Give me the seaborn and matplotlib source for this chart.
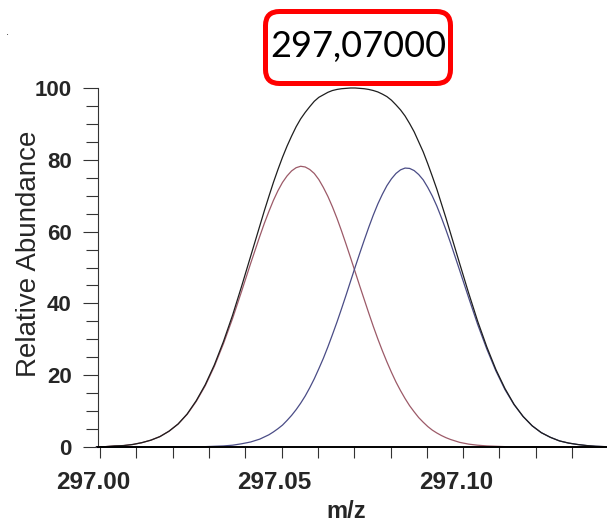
import matplotlib
matplotlib.use("Agg")
import matplotlib.pyplot as plt
from matplotlib.patches import FancyBboxPatch
from matplotlib.transforms import IdentityTransform, ScaledTranslation
from matplotlib.ticker import MultipleLocator, FixedLocator
import seaborn as sns
import pandas as pd

# m/z sampling positions of the profile traces (denser across the peak tops)
mz = [296.9990, 297.0015, 297.0040, 297.0065, 297.0090, 297.0115, 297.0140, 297.0165,
      297.0190, 297.0215, 297.0240, 297.0265, 297.0290, 297.0315, 297.0340, 297.0365,
      297.0390, 297.0415,
      297.0440, 297.04525, 297.0465, 297.04775, 297.0490, 297.05025, 297.0515, 297.05275,
      297.0540, 297.05525, 297.0565, 297.05775, 297.0590, 297.06025, 297.0615, 297.06275,
      297.0640, 297.06525, 297.0665, 297.06775, 297.0690, 297.07025, 297.0715, 297.07275,
      297.0740, 297.07525, 297.0765, 297.07775, 297.0790, 297.08025, 297.0815, 297.08275,
      297.0840, 297.08525, 297.0865, 297.08775, 297.0890, 297.09025, 297.0915, 297.09275,
      297.0940, 297.09525,
      297.0965, 297.0990, 297.1015, 297.1040, 297.1065, 297.1090, 297.1115, 297.1140,
      297.1165, 297.1190, 297.1215, 297.1240, 297.1265, 297.1290, 297.1315, 297.1340,
      297.1365, 297.1390]

# observed (merged) peak profile
envelope = [0.1, 0.1, 0.3, 0.4, 0.7, 1.2, 1.9, 2.9, 4.4, 6.4, 9.2, 12.9, 17.4, 22.9,
            29.4, 36.7, 44.8, 53.2,
            61.6, 65.8, 69.8, 73.7, 77.3, 80.7, 83.8, 86.6, 89.2, 91.4, 93.2, 94.8,
            96.3, 97.4, 98.1, 98.8, 99.3, 99.6, 99.8, 99.9, 100.0, 100.0, 99.9, 99.8,
            99.6, 99.3, 98.9, 98.3, 97.6, 96.6, 95.3, 93.9, 92.2, 90.1, 87.8, 85.0,
            82.2, 78.9, 75.4, 71.8, 67.8, 63.8,
            59.6, 51.2, 42.9, 35.0, 27.9, 21.6, 16.3, 11.9, 8.5, 5.9, 4.0, 2.7, 1.7,
            1.1, 0.7, 0.4, 0.2, 0.1]

# lower-mass component
component_a = [0.1, 0.1, 0.3, 0.4, 0.7, 1.2, 1.9, 2.9, 4.4, 6.4, 9.1, 12.7, 17.1, 22.5,
               28.8, 35.8, 43.4, 51.2,
               58.7, 62.3, 65.6, 68.7, 71.4, 73.7, 75.5, 76.9, 77.8, 78.2, 78.0, 77.3,
               76.2, 74.5, 72.3, 69.8, 66.9, 63.7, 60.2, 56.5, 52.7, 48.8, 44.9, 41.1,
               37.3, 33.6, 30.1, 26.8, 23.7, 20.8, 18.1, 15.7, 13.5, 11.5, 9.8, 8.2,
               6.9, 5.7, 4.7, 3.9, 3.2, 2.6,
               2.1, 1.3, 0.8, 0.5, 0.3, 0.2, 0.1, 0.0, 0.0, 0.0, 0.0, 0.0, 0.0, 0.0,
               0.0, 0.0, 0.0, 0.0]

# higher-mass component
component_b = [0.0, 0.0, 0.0, 0.0, 0.0, 0.0, 0.0, 0.0, 0.0, 0.0, 0.0, 0.1, 0.1, 0.2,
               0.3, 0.5, 0.9, 1.4,
               2.2, 2.8, 3.4, 4.2, 5.1, 6.1, 7.4, 8.8, 10.4, 12.2, 14.2, 16.5,
               19.0, 21.8, 24.7, 27.9, 31.3, 34.8, 38.5, 42.3, 46.2, 50.1, 53.9, 57.6,
               61.2, 64.6, 67.7, 70.4, 72.8, 74.7, 76.2, 77.2, 77.7, 77.6, 77.0, 75.9,
               74.4, 72.3, 69.9, 67.1, 63.9, 60.5,
               56.9, 49.3, 41.6, 34.1, 27.3, 21.2, 16.0, 11.8, 8.5, 5.9, 4.0, 2.7, 1.7,
               1.1, 0.7, 0.4, 0.2, 0.1]

x_major = [297.00, 297.05, 297.10]
x_labels = ["297.00", "297.05", "297.10"]
y_major = [0, 20, 40, 60, 80, 100]
peak_label = "297,07000"

sns.set_style("ticks")
plt.rcParams["font.family"] = ["Liberation Sans", "DejaVu Sans"]

n = len(mz)
df = pd.DataFrame({"mz": mz * 3,
                   "abundance": envelope + component_a + component_b,
                   "trace": ["envelope"] * n + ["a"] * n + ["b"] * n})

fig = plt.figure(figsize=(6.07, 5.23), dpi=100)
ax = fig.add_axes([98 / 607, 76 / 523, 509 / 607, 359 / 523])

palette = {"envelope": "#1e1e1e", "a": "#9c5a68", "b": "#4a4c86"}
sns.lineplot(data=df, x="mz", y="abundance", hue="trace", palette=palette,
             hue_order=["a", "b", "envelope"], linewidth=0.9, legend=False,
             ax=ax, clip_on=False, sort=False)

ax.set_xlim(296.99945, 297.1396)
ax.set_ylim(0, 100)

ax.xaxis.set_major_locator(FixedLocator(x_major))
ax.set_xticklabels(x_labels)
ax.xaxis.set_minor_locator(MultipleLocator(0.01))
ax.yaxis.set_major_locator(FixedLocator(y_major))
ax.yaxis.set_minor_locator(MultipleLocator(5))

ax.tick_params(axis="y", which="major", length=11, width=0.8, color="#333333",
               labelsize=16, pad=8)
ax.tick_params(axis="y", which="minor", length=8.5, width=0.8, color="#333333")
ax.tick_params(axis="x", which="both", length=8, width=0.8, color="#333333",
               labelsize=17.5, pad=9)
shift = ScaledTranslation(-7 / 100, 0, fig.dpi_scale_trans)
for lab in ax.get_xticklabels():
    lab.set_fontweight("bold")
    lab.set_transform(lab.get_transform() + shift)
for lab in ax.get_yticklabels():
    lab.set_fontweight("bold")

sns.despine(ax=ax)
ax.spines["left"].set_linewidth(0.8)
ax.spines["left"].set_color("#333333")
ax.spines["bottom"].set_linewidth(1.4)
ax.spines["bottom"].set_color("#000000")

ax.set_xlabel("m/z", fontsize=17, fontweight="bold")
ax.xaxis.set_label_coords(0.487, -0.148)
ax.set_ylabel("Relative Abundance", fontsize=20)
ax.yaxis.set_label_coords(-0.110, 0.538)

# highlighted peak position in a rounded red frame
frame = FancyBboxPatch((265.5, 439.5), 185, 72,
                       boxstyle="round,pad=0,rounding_size=14",
                       transform=IdentityTransform(), facecolor="white",
                       edgecolor="#ff0000", linewidth=3.6, zorder=5)
fig.patches.append(frame)
fig.text(358 / 607, 476 / 523, peak_label, fontsize=26, family=["Lato", "DejaVu Sans"],
         ha="center", va="center", color="black", zorder=6)

fig.text(6 / 607, 488 / 523, ".", fontsize=8, color="#333333")

fig.savefig("out.png", dpi=100)
